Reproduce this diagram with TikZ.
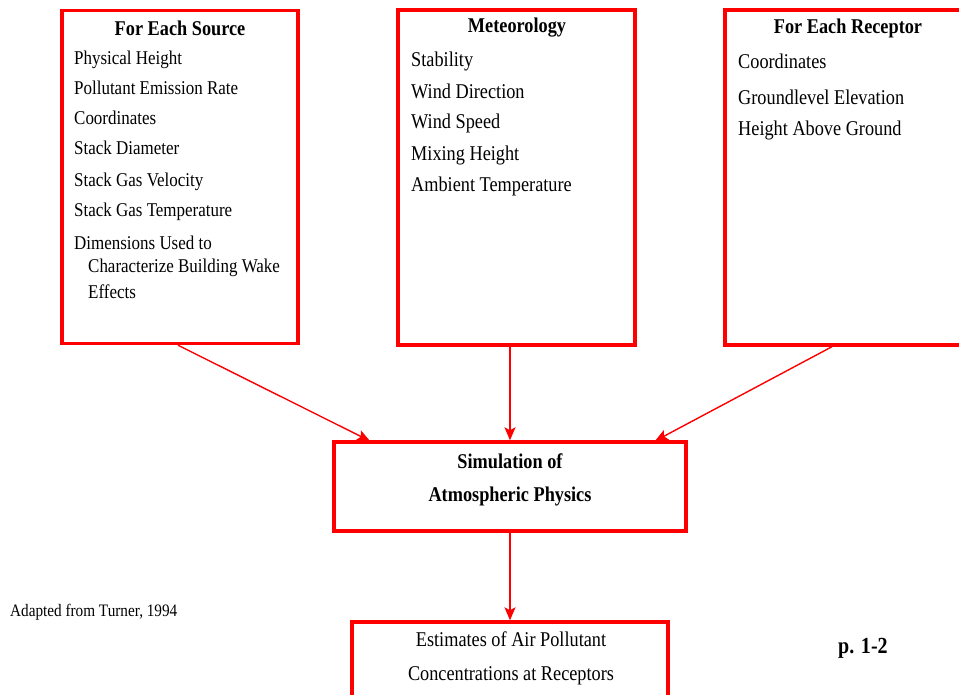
\documentclass[tikz,border=0pt]{standalone}
\usepackage{fontspec}
\setmainfont{Liberation Serif}[FakeStretch=0.87]
\usetikzlibrary{arrows.meta}

\tikzset{
  box/.style={draw=red,line width=3.4pt,inner sep=0pt},
  item/.style={anchor=west,inner sep=0pt,font=\fontsize{19.5}{22}\selectfont},
  bigitem/.style={anchor=west,inner sep=0pt,font=\fontsize{21}{24}\selectfont},
  head/.style={inner sep=0pt,font=\fontsize{21}{24}\selectfont\bfseries},
  flow/.style={draw=red,line width=1.4pt,-{Stealth[length=13pt,width=11pt,inset=3pt]}}
}

\begin{document}
\begin{tikzpicture}[x=1pt,y=-1pt]
            \useasboundingbox[fill=white] (0,0) rectangle (959,695);
            % boxes
            \node[box,minimum width=236pt,minimum height=333pt] (src) at (180,177) {};
            \node[box,minimum width=237pt,minimum height=335pt] (met) at (516.5,177.5) {};
            \node[box,minimum width=250pt,minimum height=335pt] (rec) at (850,177.5) {};
            \node[box,minimum width=352pt,minimum height=89pt] (sim) at (510,486.5) {};
            \node[box,minimum width=316pt,minimum height=120pt] (est) at (510,682) {};

            % source
            \node[head] (srct) at (180,28) {For Each Source};
            \node[item] (s1) at (74,60) {Physical Height};
            \node[item] (s2) at (74,88) {Pollutant Emission Rate};
            \node[item] (s3) at (74,118) {Coordinates};
            \node[item] (s4) at (74,148) {Stack Diameter};
            \node[item] (s5) at (74,182) {Stack Gas Velocity};
            \node[item] (s6) at (74,212) {Stack Gas Temperature};
            \node[item] (s7) at (74,243) {Dimensions Used to};
            \node[item] (s8) at (88,268) {Characterize Building Wake};
            \node[item] (s9) at (88,292) {Effects};

            % meteorology
            \node[head] (mett) at (517,28) {Meteorology};
            \node[bigitem] (m1) at (411,61) {Stability};
            \node[bigitem] (m2) at (411,91) {Wind Direction};
            \node[bigitem] (m3) at (411,123) {Wind Speed};
            \node[bigitem] (m4) at (411,155) {Mixing Height};
            \node[bigitem] (m5) at (411,186) {Ambient Temperature};

            % receptor
            \node[head] (rect) at (848,28) {For Each Receptor};
            \node[bigitem] (r1) at (738,61) {Coordinates};
            \node[bigitem] (r2) at (738,97) {Groundlevel Elevation};
            \node[bigitem] (r3) at (738,130) {Height Above Ground};

            % simulation and estimates
            \node[head] (sim1) at (510,461) {Simulation of};
            \node[head] (sim2) at (510,496) {Atmospheric Physics};
            \node[bigitem,anchor=center] (est1) at (511,639) {Estimates of Air Pollutant};
            \node[bigitem,anchor=center] (est2) at (511,676) {Concentrations at Receptors};

            % notes
            \node[anchor=west,inner sep=0pt,font=\fontsize{17.5}{20}\selectfont] (note) at (10,612) {Adapted from Turner, 1994};
            \node[anchor=west,inner sep=0pt,font=\fontsize{23}{26}\selectfont\bfseries] (page) at (838,648) {p. 1-2};

            % arrows
            \coordinate (a1) at (370,441);
            \coordinate (a3) at (655,441);
            \draw[flow] (src.south -| 178,0) -- (a1);
            \draw[flow] (met.south -| 510,0) -- (sim.north -| 510,0);
            \draw[flow] (rec.south -| 832,0) -- (a3);
            \draw[flow] (sim.south -| 510,0) -- (est.north -| 510,0);
        \end{tikzpicture}
\end{document}
